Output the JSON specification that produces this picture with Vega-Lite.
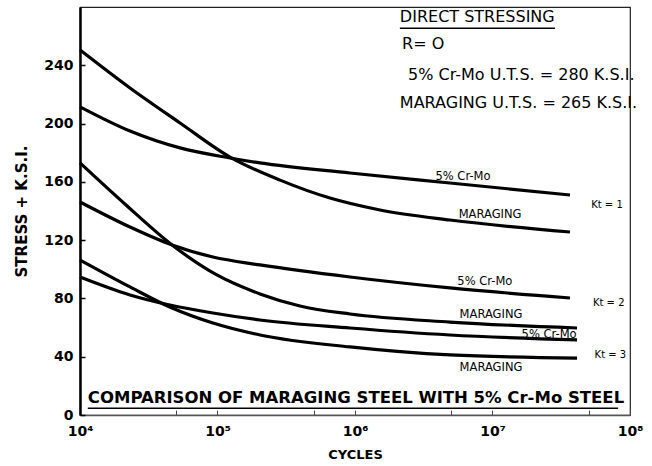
{
  "$schema": "https://vega.github.io/schema/vega-lite/v6.json",
  "width": 550,
  "height": 408,
  "autosize": "none",
  "padding": {"left": 80, "top": 7, "right": 22, "bottom": 51},
  "background": "white",
  "config": {
    "view": {"stroke": "#222", "strokeWidth": 1.2},
    "font": "DejaVu Sans",
    "axis": {"grid": false, "labelColor": "black", "titleColor": "black", "labelFont": "DejaVu Sans", "titleFont": "DejaVu Sans"}
  },
  "datasets": {
    "curves": [
      {"series": "Maraging Kt=1", "cycles": 10000, "stress": 250.5},
      {"series": "Maraging Kt=1", "cycles": 23100, "stress": 224.4},
      {"series": "Maraging Kt=1", "cycles": 53400, "stress": 200.4},
      {"series": "Maraging Kt=1", "cycles": 123300, "stress": 177},
      {"series": "Maraging Kt=1", "cycles": 285000, "stress": 161.2},
      {"series": "Maraging Kt=1", "cycles": 658000, "stress": 148.9},
      {"series": "Maraging Kt=1", "cycles": 1520000, "stress": 140.7},
      {"series": "Maraging Kt=1", "cycles": 4910000, "stress": 133.8},
      {"series": "Maraging Kt=1", "cycles": 36600000, "stress": 125.6},
      {"series": "Cr-Mo Kt=1", "cycles": 10000, "stress": 211.5},
      {"series": "Cr-Mo Kt=1", "cycles": 23100, "stress": 194.9},
      {"series": "Cr-Mo Kt=1", "cycles": 53400, "stress": 183.3},
      {"series": "Cr-Mo Kt=1", "cycles": 123300, "stress": 176.4},
      {"series": "Cr-Mo Kt=1", "cycles": 203700, "stress": 173},
      {"series": "Cr-Mo Kt=1", "cycles": 920000, "stress": 166.1},
      {"series": "Cr-Mo Kt=1", "cycles": 4910000, "stress": 159.2},
      {"series": "Cr-Mo Kt=1", "cycles": 36600000, "stress": 151},
      {"series": "Maraging Kt=2", "cycles": 10000, "stress": 173},
      {"series": "Maraging Kt=2", "cycles": 21200, "stress": 144.8},
      {"series": "Maraging Kt=2", "cycles": 46700, "stress": 116.7},
      {"series": "Maraging Kt=2", "cycles": 95900, "stress": 96.8},
      {"series": "Maraging Kt=2", "cycles": 203700, "stress": 83.1},
      {"series": "Maraging Kt=2", "cycles": 398000, "stress": 74.8},
      {"series": "Maraging Kt=2", "cycles": 920000, "stress": 69.3},
      {"series": "Maraging Kt=2", "cycles": 4910000, "stress": 63.8},
      {"series": "Maraging Kt=2", "cycles": 41200000, "stress": 59.7},
      {"series": "Cr-Mo Kt=2", "cycles": 10000, "stress": 146.2},
      {"series": "Cr-Mo Kt=2", "cycles": 23100, "stress": 129},
      {"series": "Cr-Mo Kt=2", "cycles": 46700, "stress": 116.7},
      {"series": "Cr-Mo Kt=2", "cycles": 92700, "stress": 108.4},
      {"series": "Cr-Mo Kt=2", "cycles": 203700, "stress": 103},
      {"series": "Cr-Mo Kt=2", "cycles": 920000, "stress": 94.7},
      {"series": "Cr-Mo Kt=2", "cycles": 4910000, "stress": 87.2},
      {"series": "Cr-Mo Kt=2", "cycles": 36600000, "stress": 80.3},
      {"series": "Maraging Kt=3", "cycles": 10000, "stress": 106.4},
      {"series": "Maraging Kt=3", "cycles": 23100, "stress": 87.9},
      {"series": "Maraging Kt=3", "cycles": 45000, "stress": 74.1},
      {"series": "Maraging Kt=3", "cycles": 92700, "stress": 63.1},
      {"series": "Maraging Kt=3", "cycles": 203700, "stress": 54.9},
      {"series": "Maraging Kt=3", "cycles": 920000, "stress": 46.7},
      {"series": "Maraging Kt=3", "cycles": 4910000, "stress": 41.2},
      {"series": "Maraging Kt=3", "cycles": 41200000, "stress": 39.1},
      {"series": "Cr-Mo Kt=3", "cycles": 10000, "stress": 94.7},
      {"series": "Cr-Mo Kt=3", "cycles": 23100, "stress": 82.4},
      {"series": "Cr-Mo Kt=3", "cycles": 45000, "stress": 75.5},
      {"series": "Cr-Mo Kt=3", "cycles": 92700, "stress": 70},
      {"series": "Cr-Mo Kt=3", "cycles": 203700, "stress": 65.2},
      {"series": "Cr-Mo Kt=3", "cycles": 920000, "stress": 59.7},
      {"series": "Cr-Mo Kt=3", "cycles": 4910000, "stress": 54.9},
      {"series": "Cr-Mo Kt=3", "cycles": 41200000, "stress": 51.5}
    ],
    "curveLabels": [
      {"label": "5% Cr-Mo", "cycles": 6100000, "stress": 163.3},
      {"label": "MARAGING", "cycles": 9600000, "stress": 137.3},
      {"label": "5% Cr-Mo", "cycles": 8800000, "stress": 91.3},
      {"label": "MARAGING", "cycles": 9750000, "stress": 68.6},
      {"label": "5% Cr-Mo", "cycles": 25800000, "stress": 54.9},
      {"label": "MARAGING", "cycles": 9750000, "stress": 32.3}
    ],
    "ktLabels": [
      {"label": "Kt = 1", "cycles": 68000000, "stress": 144.1},
      {"label": "Kt = 2", "cycles": 70000000, "stress": 76.9},
      {"label": "Kt = 3", "cycles": 72000000, "stress": 41.2}
    ],
    "header": [
      {"label": "DIRECT STRESSING", "cycles": 2120000, "stress": 273.2},
      {"label": "R= O", "cycles": 2200000, "stress": 254.6},
      {"label": "5% Cr-Mo U.T.S. = 280 K.S.I.", "cycles": 2430000, "stress": 233.4},
      {"label": "MARAGING U.T.S. = 265 K.S.I.", "cycles": 2120000, "stress": 214.1}
    ],
    "footer": [
      {"label": "COMPARISON OF MARAGING STEEL WITH 5% Cr-Mo STEEL", "cycles": 11400, "stress": 11.7}
    ],
    "underlines": [
      {"cycles": 2120000, "cycles2": 28500000, "stress": 265.5},
      {"cycles": 11400, "cycles2": 81900000, "stress": 4.6}
    ]
  },
  "layer": [
    {
      "data": {"name": "curves"},
      "mark": {"type": "line", "color": "black", "strokeWidth": 3.2, "interpolate": "monotone"},
      "encoding": {
        "x": {
          "field": "cycles", "type": "quantitative",
          "scale": {"type": "log", "domain": [10000, 100000000]},
          "axis": {
            "title": "CYCLES", "titleFontSize": 13, "titleFontWeight": "bold", "titlePadding": 10,
            "values": [10000, 50000, 100000, 500000, 1000000, 5000000, 10000000, 50000000, 100000000],
            "labelExpr": "datum.value == 10000 ? '10⁴' : datum.value == 100000 ? '10⁵' : datum.value == 1000000 ? '10⁶' : datum.value == 10000000 ? '10⁷' : datum.value == 100000000 ? '10⁸' : ''",
            "labelFontSize": 14, "labelFontWeight": "bold", "labelPadding": 14,
            "tickSize": -5, "tickColor": "#444", "domainColor": "#555", "domainWidth": 1.5, "labelFlush": false
          }
        },
        "y": {
          "field": "stress", "type": "quantitative",
          "scale": {"domain": [0, 280], "nice": false},
          "axis": {
            "title": "STRESS + K.S.I.", "titleFontSize": 15, "titleFontWeight": "bold", "titlePadding": 14,
            "values": [0, 40, 80, 120, 160, 200, 240],
            "labelFontSize": 14, "labelFontWeight": "bold", "labelPadding": 12,
            "tickSize": -5, "tickColor": "black", "tickWidth": 1.5, "domainColor": "black", "domainWidth": 2.5
          }
        },
        "detail": {"field": "series"}
      }
    },
    {
      "data": {"name": "curveLabels"},
      "mark": {"type": "text", "fontSize": 11.5, "color": "black", "align": "center", "baseline": "middle"},
      "encoding": {
        "x": {"field": "cycles", "type": "quantitative"},
        "y": {"field": "stress", "type": "quantitative"},
        "text": {"field": "label"}
      }
    },
    {
      "data": {"name": "ktLabels"},
      "mark": {"type": "text", "fontSize": 10, "color": "black", "align": "center", "baseline": "middle"},
      "encoding": {
        "x": {"field": "cycles", "type": "quantitative"},
        "y": {"field": "stress", "type": "quantitative"},
        "text": {"field": "label"}
      }
    },
    {
      "data": {"name": "header"},
      "mark": {"type": "text", "fontSize": 16, "color": "black", "align": "left", "baseline": "middle"},
      "encoding": {
        "x": {"field": "cycles", "type": "quantitative"},
        "y": {"field": "stress", "type": "quantitative"},
        "text": {"field": "label"}
      }
    },
    {
      "data": {"name": "footer"},
      "mark": {"type": "text", "fontSize": 16.5, "fontWeight": "bold", "color": "black", "align": "left", "baseline": "middle"},
      "encoding": {
        "x": {"field": "cycles", "type": "quantitative"},
        "y": {"field": "stress", "type": "quantitative"},
        "text": {"field": "label"}
      }
    },
    {
      "data": {"name": "underlines"},
      "mark": {"type": "rule", "color": "black", "strokeWidth": 1.5},
      "encoding": {
        "x": {"field": "cycles", "type": "quantitative"},
        "x2": {"field": "cycles2"},
        "y": {"field": "stress", "type": "quantitative"}
      }
    }
  ]
}
